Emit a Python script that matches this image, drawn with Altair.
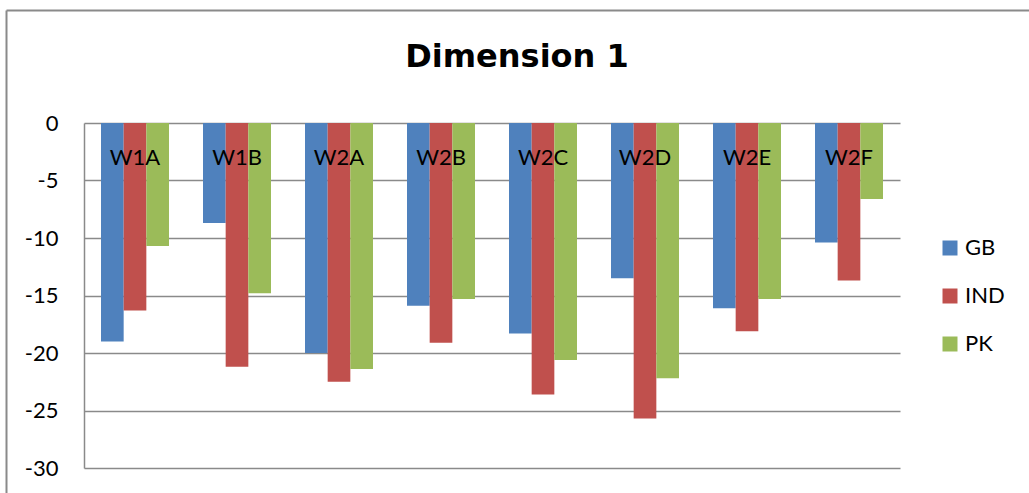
import altair as alt
import pandas as pd

categories = ["W1A", "W1B", "W2A", "W2B", "W2C", "W2D", "W2E", "W2F"]
series = ["GB", "IND", "PK"]
gb = [-19.0, -8.7, -20.0, -15.9, -18.3, -13.5, -16.1, -10.4]
ind = [-16.3, -21.2, -22.5, -19.1, -23.6, -25.7, -18.1, -13.7]
pk = [-10.7, -14.8, -21.4, -15.3, -20.6, -22.2, -15.3, -6.6]
colors = ["#4F81BD", "#C0504D", "#9BBB59"]
y_ticks = [0, -5, -10, -15, -20, -25, -30]

rows = []
for name, vals in zip(series, [gb, ind, pk]):
    for cat, v in zip(categories, vals):
        rows.append({"category": cat, "series": name, "value": v})
df = pd.DataFrame(rows)
cats = pd.DataFrame({"category": categories})

FONT = "Lato"
W, H = 816, 345
GRID = "#8a8a8a"

x_enc = alt.X("category:N", sort=categories,
              scale=alt.Scale(paddingInner=1/3, paddingOuter=1/6), axis=None)
y_scale = alt.Scale(domain=[-30, 0], nice=False)

bars = alt.Chart(df).mark_bar(stroke=None).encode(
    x=x_enc,
    xOffset=alt.XOffset("series:N", sort=series, scale=alt.Scale(paddingInner=0, paddingOuter=0)),
    y=alt.Y("value:Q", scale=y_scale, title=None,
            axis=alt.Axis(values=y_ticks, labelExpr="'' + datum.value",
                          grid=True, gridColor=GRID, gridWidth=1.5,
                          domain=True, domainColor=GRID, domainWidth=1.5,
                          ticks=False, labelPadding=26, labelFont=FONT,
                          labelFontSize=22, labelColor="#000")),
    color=alt.Color("series:N", sort=series,
                    scale=alt.Scale(domain=series, range=colors),
                    legend=alt.Legend(title=None, orient="none", legendX=855, legendY=114,
                                      symbolType="square", symbolSize=225,
                                      symbolStrokeWidth=0, labelFont=FONT,
                                      labelFontSize=22, labelColor="#000",
                                      labelOffset=4, rowPadding=26)),
)

labels = alt.Chart(cats).mark_text(font=FONT, fontSize=22, baseline="alphabetic",
                                   color="#000").encode(
    x=alt.X("category:N", sort=categories),
    y=alt.value(42),
    text="category:N",
)

title = alt.Chart(cats).transform_aggregate(n="count()").mark_text(
    text="Dimension 1", font="DejaVu Sans", fontSize=32,
    fontWeight="bold", baseline="alphabetic", color="#000").encode(
    x=alt.value(433), y=alt.value(-56))

# outer frame of the chart area (top and left edges)
frame_top = alt.Chart(cats).transform_aggregate(n="count()").mark_rule(
    color=GRID, strokeWidth=2).encode(
    x=alt.value(-77.5), x2=alt.value(W + 200), y=alt.value(-112.5))
frame_left = alt.Chart(cats).transform_aggregate(n="count()").mark_rule(
    color=GRID, strokeWidth=2).encode(
    x=alt.value(-77.5), y=alt.value(-112.5), y2=alt.value(H + 100))

chart = alt.layer(frame_top, frame_left, bars, labels, title).properties(
    width=W, height=H,
    autosize=alt.AutoSizeParams(type="none"),
    padding={"left": 84, "top": 123, "right": 129, "bottom": 25},
    background="white",
).configure_view(stroke=None)

chart.save("out.html", embed_options={"renderer": "svg", "actions": False})
